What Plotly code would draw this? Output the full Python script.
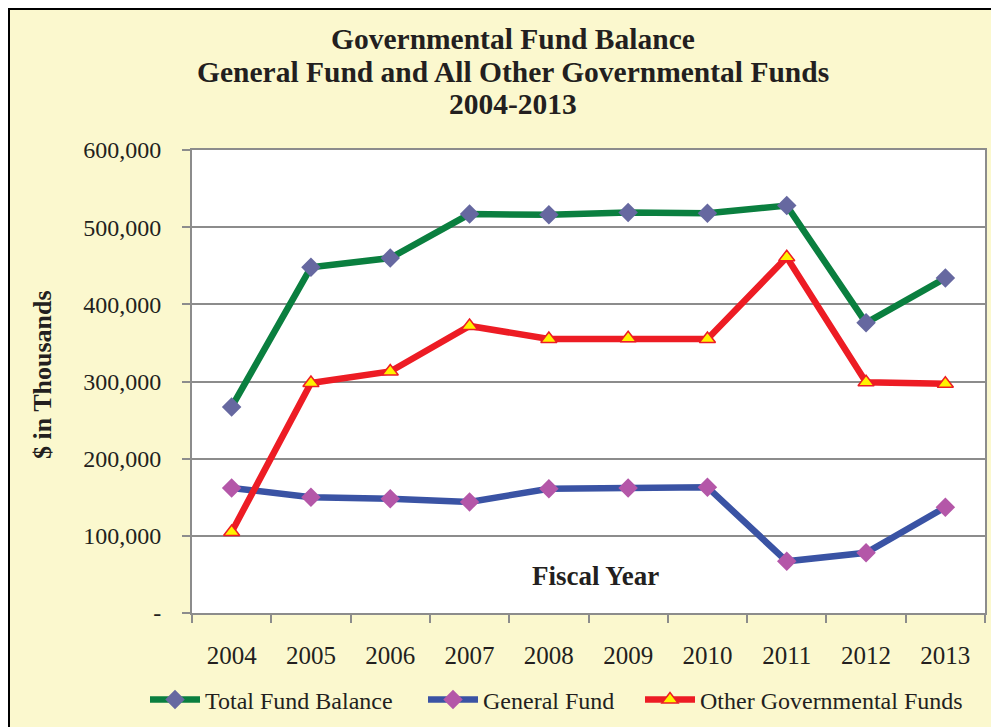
import plotly.graph_objects as go

years = ["2004", "2005", "2006", "2007", "2008", "2009", "2010", "2011", "2012", "2013"]
total_fund = [267000, 448000, 460000, 517000, 516000, 519000, 518000, 528000, 376000, 434000]
general_fund = [162000, 150000, 148000, 144000, 161000, 162000, 163000, 67000, 78000, 137000]
other_funds = [105000, 298000, 313000, 372000, 355000, 356000, 355000, 461000, 299000, 297000]
y_ticks = [0, 100000, 200000, 300000, 400000, 500000, 600000]
y_tick_text = ["-", "100,000", "200,000", "300,000", "400,000", "500,000", "600,000"]

# page body has an 8px margin; work in reference-image pixels and shift
OFF = 8
W, H = 999 - OFF, 727 - OFF
L, R, T, B = 192, 985, 150, 613   # plot area in reference pixels
pw, ph = R - L, B - T

def px(x):
    return (x - L) / pw

def py(y):
    return (B - y) / ph

serif = "Liberation Serif"
txt = "#231F20"
grey = "#8C8C8C"

fig = go.Figure()
fig.add_trace(go.Scatter(
    x=years, y=total_fund, name="Total Fund Balance", mode="lines+markers",
    line=dict(color="#0A7F3F", width=6.5), legend="legend",
    marker=dict(symbol="diamond", size=15, color="#6668A0")))
fig.add_trace(go.Scatter(
    x=years, y=general_fund, name="General Fund", mode="lines+markers",
    line=dict(color="#3A53A4", width=6.5), legend="legend2",
    marker=dict(symbol="diamond", size=15, color="#B457A8")))
fig.add_trace(go.Scatter(
    x=years, y=other_funds, name="Other Governmental Funds", mode="lines+markers",
    line=dict(color="#ED1C24", width=6.5), legend="legend3",
    marker=dict(symbol="triangle-up", size=14, color="#FFF200",
                line=dict(color="#ED1C24", width=1.5))))

def leg(xref_px):
    return dict(orientation="h", xref="container", yref="container",
                x=(xref_px - OFF) / W, y=1 - (700 - OFF) / H,
                xanchor="left", yanchor="middle",
                font=dict(size=24, family=serif, color=txt),
                bgcolor="rgba(0,0,0,0)", itemwidth=50)

fig.update_layout(
    width=W, height=H,
    margin=dict(l=L - OFF, r=W - (R - OFF), t=T - OFF, b=H - (B - OFF), autoexpand=False),
    paper_bgcolor="white", plot_bgcolor="white",
    font=dict(family=serif, color=txt, size=25),
    showlegend=True,
    legend=leg(145), legend2=leg(423), legend3=leg(640),
    xaxis=dict(type="category", range=[-0.5, len(years) - 0.5], automargin=False,
               tickson="boundaries", ticks="outside",
               ticklen=8, tickwidth=2, tickcolor=grey,
               showline=True, linecolor=grey, linewidth=2, mirror=True,
               showgrid=False, tickfont=dict(size=25, family=serif, color=txt),
               ticklabelstandoff=19),
    yaxis=dict(range=[0, 600000], tickvals=y_ticks, ticktext=y_tick_text, automargin=False,
               ticks="outside", ticklen=8, tickwidth=2, tickcolor=grey,
               showline=True, linecolor=grey, linewidth=2, mirror=True,
               showgrid=True, gridcolor=grey, gridwidth=2, zeroline=False,
               tickfont=dict(size=24, family=serif, color=txt),
               ticklabelstandoff=16),
    shapes=[
        dict(type="rect", xref="paper", yref="paper", layer="below",
             x0=px(OFF + 0.5), x1=px(1010), y0=py(740), y1=py(OFF + 0.5),
             fillcolor="#FBF8CE", line=dict(color="black", width=3)),
        dict(type="rect", xref="paper", yref="paper", layer="below",
             x0=0, x1=1, y0=0, y1=1, fillcolor="white", line=dict(width=0)),
    ],
    annotations=[
        dict(text="<b>Governmental Fund Balance</b>", xref="paper", yref="paper",
             x=px(513), y=py(39), showarrow=False, xanchor="center", yanchor="middle",
             font=dict(size=29.5, family=serif, color=txt)),
        dict(text="<b>General Fund and All Other Governmental Funds</b>", xref="paper", yref="paper",
             x=px(513), y=py(72), showarrow=False, xanchor="center", yanchor="middle",
             font=dict(size=29.5, family=serif, color=txt)),
        dict(text="<b>2004-2013</b>", xref="paper", yref="paper",
             x=px(513), y=py(104), showarrow=False, xanchor="center", yanchor="middle",
             font=dict(size=29.5, family=serif, color=txt)),
        dict(text="<b>Fiscal Year</b>", xref="paper", yref="paper",
             x=px(595), y=py(576), showarrow=False, xanchor="center", yanchor="middle",
             font=dict(size=27, family=serif, color=txt)),
        dict(text="<b>$ in Thousands</b>", xref="paper", yref="paper",
             x=px(42), y=py(375), showarrow=False, xanchor="center", yanchor="middle",
             textangle=-90, font=dict(size=26, family=serif, color=txt)),
    ],
)

fig.write_html("out.html")
